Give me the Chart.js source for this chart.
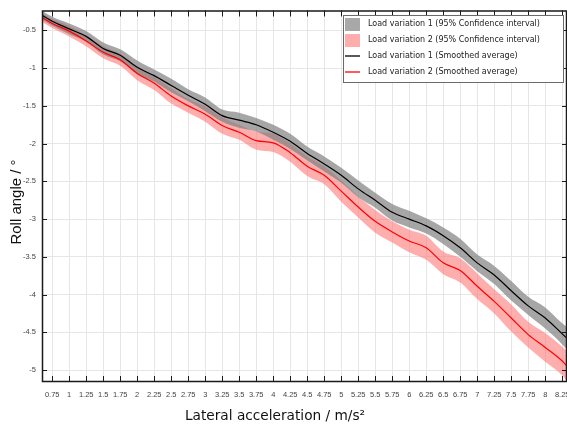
<!DOCTYPE html>
<html>
<head>
<meta charset="utf-8">
<script src="https://cdn.jsdelivr.net/npm/chart.js@4.4.1/dist/chart.umd.min.js"></script>
<style>
  html, body { margin:0; padding:0; background:#fff; }
  #wrap { width:567px; height:425px; position:relative; }
</style>
</head>
<body>
<div id="wrap"><canvas id="c" width="567" height="425"></canvas></div>
<script>
// lateral acceleration (m/s²) where the curves were read
const accel = [0.6, 0.75, 1.0, 1.25, 1.5, 1.75, 2.0, 2.25, 2.5, 2.75, 3.0, 3.25, 3.5, 3.75, 4.0, 4.25,
               4.5, 4.75, 5.0, 5.25, 5.5, 5.75, 6.0, 6.25, 6.5, 6.75, 7.0, 7.25, 7.5, 7.75, 8.0, 8.25, 8.32];

// smoothed averages (roll angle, °)
const avgLoad1 = [-0.30, -0.38, -0.48, -0.58, -0.74, -0.83, -0.99, -1.10, -1.23, -1.36, -1.48, -1.63, -1.69, -1.75, -1.85, -1.97,
                  -2.13, -2.27, -2.42, -2.60, -2.75, -2.91, -3.00, -3.09, -3.22, -3.38, -3.58, -3.74, -3.95, -4.15, -4.31, -4.52, -4.58];
const avgLoad2 = [-0.33, -0.41, -0.51, -0.64, -0.79, -0.89, -1.07, -1.20, -1.37, -1.50, -1.61, -1.76, -1.85, -1.96, -1.99, -2.12,
                  -2.30, -2.42, -2.63, -2.84, -3.03, -3.17, -3.29, -3.38, -3.58, -3.68, -3.89, -4.09, -4.31, -4.53, -4.70, -4.88, -4.95];

// half width of the 95% confidence bands
const ciHalf1 = [0.06, 0.06, 0.07, 0.07, 0.08, 0.08, 0.09, 0.08, 0.09, 0.08, 0.09, 0.08, 0.10, 0.09, 0.10, 0.10,
                 0.09, 0.10, 0.10, 0.11, 0.10, 0.11, 0.11, 0.10, 0.11, 0.12, 0.11, 0.12, 0.13, 0.12, 0.14, 0.14, 0.15];
const ciHalf2 = [0.06, 0.06, 0.07, 0.07, 0.08, 0.08, 0.09, 0.09, 0.10, 0.09, 0.10, 0.11, 0.10, 0.12, 0.12, 0.12,
                 0.13, 0.12, 0.14, 0.14, 0.15, 0.14, 0.15, 0.16, 0.15, 0.16, 0.17, 0.16, 0.18, 0.17, 0.19, 0.19, 0.20];

const xTicks = [0.75, 1, 1.25, 1.5, 1.75, 2, 2.25, 2.5, 2.75, 3, 3.25, 3.5, 3.75, 4, 4.25, 4.5, 4.75,
                5, 5.25, 5.5, 5.75, 6, 6.25, 6.5, 6.75, 7, 7.25, 7.5, 7.75, 8, 8.25];
const yTicks = [-5, -4.5, -4, -3.5, -3, -2.5, -2, -1.5, -1, -0.5];

const legendItems = [
  { text:'Load variation 1 (95% Confidence interval)', kind:'box',  color:'#a8a8a8' },
  { text:'Load variation 2 (95% Confidence interval)', kind:'box',  color:'#ffacac' },
  { text:'Load variation 1 (Smoothed average)',        kind:'line', color:'#000000' },
  { text:'Load variation 2 (Smoothed average)',        kind:'line', color:'#ff0000' }
];

const xTitle = 'Lateral acceleration / m/s²';
const yTitle = 'Roll angle / °';

function pts(ys) { return accel.map((x, i) => ({ x:x, y:ys[i] })); }
function band(avg, half, sign) { return pts(avg.map((v, i) => v + sign * half[i])); }

// frame, inward ticks, titles and legend box
const framePlugin = {
  id:'frame',
  afterDatasetsDraw(chart) {
    const ctx = chart.ctx, a = chart.chartArea;
    const xs = chart.scales.x, ys = chart.scales.y;
    ctx.save();
    ctx.strokeStyle = '#1a1a1a';
    ctx.lineWidth = 1;
    ctx.beginPath();
    xTicks.forEach(t => {
      const px = Math.round(xs.getPixelForValue(t)) + 0.5;
      ctx.moveTo(px, a.bottom); ctx.lineTo(px, a.bottom - 6);
      ctx.moveTo(px, a.top);    ctx.lineTo(px, a.top + 6);
    });
    yTicks.forEach(t => {
      const py = Math.round(ys.getPixelForValue(t)) + 0.5;
      ctx.moveTo(a.left, py);  ctx.lineTo(a.left + 5, py);
      ctx.moveTo(a.right, py); ctx.lineTo(a.right - 5, py);
    });
    ctx.stroke();
    ctx.lineWidth = 1.5;
    ctx.strokeRect(a.left + 0.5, a.top + 0.5, a.right - a.left - 1, a.bottom - a.top - 1);

    // axis titles
    ctx.fillStyle = '#111';
    ctx.textAlign = 'center';
    ctx.textBaseline = 'middle';
    ctx.font = '13.7px "DejaVu Sans"';
    ctx.fillText(xTitle, 275, 416);
    ctx.save();
    ctx.translate(17, 202);
    ctx.rotate(-Math.PI / 2);
    ctx.font = '15px "Liberation Sans"';
    ctx.fillText(yTitle, 0, 0);
    ctx.restore();

    // legend
    const lx = 343, ly = 15, lw = 220, lh = 67;
    ctx.textAlign = 'left';
    ctx.fillStyle = '#fff';
    ctx.fillRect(lx, ly, lw, lh);
    ctx.lineWidth = 1;
    ctx.strokeStyle = '#6a6a6a';
    ctx.strokeRect(lx + 0.5, ly + 0.5, lw, lh);
    ctx.font = '8px "DejaVu Sans"';
    legendItems.forEach((it, i) => {
      const cy = ly + 9 + i * 16;
      if (it.kind === 'box') {
        ctx.fillStyle = it.color;
        ctx.fillRect(lx + 2, cy - 6, 15, 13);
      } else {
        ctx.strokeStyle = it.color;
        ctx.lineWidth = 1.3;
        ctx.beginPath(); ctx.moveTo(lx + 2, cy); ctx.lineTo(lx + 17, cy); ctx.stroke();
      }
      ctx.fillStyle = '#222';
      ctx.fillText(it.text, lx + 25, cy);
    });
    ctx.restore();
  }
};

const tickFont = { family:'"Liberation Sans", Arial, sans-serif', size:7.5 };

new Chart(document.getElementById('c'), {
  type:'line',
  data:{
    datasets:[
      { label:'avg1', data:pts(avgLoad1), borderColor:'#000', borderWidth:1.2, fill:false },
      { label:'avg2', data:pts(avgLoad2), borderColor:'#ff0000', borderWidth:1.2, fill:false },
      { label:'ci1 up', data:band(avgLoad1, ciHalf1, 1), borderWidth:0, borderColor:'rgba(0,0,0,0)', fill:'+1', backgroundColor:'rgba(128,128,128,0.7)' },
      { label:'ci1 lo', data:band(avgLoad1, ciHalf1, -1), borderWidth:0, borderColor:'rgba(0,0,0,0)', fill:false },
      { label:'ci2 up', data:band(avgLoad2, ciHalf2, 1), borderWidth:0, borderColor:'rgba(0,0,0,0)', fill:'+1', backgroundColor:'rgba(255,120,120,0.6)' },
      { label:'ci2 lo', data:band(avgLoad2, ciHalf2, -1), borderWidth:0, borderColor:'rgba(0,0,0,0)', fill:false }
    ]
  },
  options:{
    responsive:false,
    animation:false,
    layout:{ padding:{ top:8, right:0, left:0, bottom:0 } },
    elements:{ point:{ radius:0 }, line:{ tension:0.4, cubicInterpolationMode:'monotone' } },
    plugins:{ legend:{ display:false }, tooltip:{ enabled:false } },
    scales:{
      x:{
        type:'linear', min:0.6, max:8.32,
        afterBuildTicks(s) { s.ticks = xTicks.map(v => ({ value:v })); },
        afterFit(s) { s.height = 43; s.paddingLeft = 0; s.paddingRight = 0; },
        grid:{ color:'#e6e6e6', lineWidth:1, drawTicks:false },
        border:{ display:false },
        ticks:{ autoSkip:false, maxRotation:0, padding:8, color:'#444', font:tickFont, callback:v => String(v) }
      },
      y:{
        type:'linear', min:-5.158, max:-0.237,
        afterBuildTicks(s) { s.ticks = yTicks.map(v => ({ value:v })); },
        afterFit(s) { s.width = 42; },
        grid:{ color:'#e6e6e6', lineWidth:1, drawTicks:false },
        border:{ display:false },
        ticks:{ padding:6, color:'#444', font:tickFont, callback:v => String(v) }
      }
    }
  },
  plugins:[framePlugin]
});
</script>
</body>
</html>
